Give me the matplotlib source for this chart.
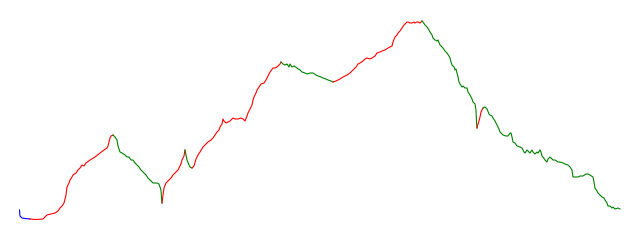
import matplotlib
matplotlib.use("Agg")
import matplotlib.pyplot as plt

# price path
day = [19.5, 20, 22, 25, 30,
       35, 43, 45, 47, 51, 55, 58, 60, 62, 64, 66, 67, 69, 70, 72, 73, 76, 78, 80, 82, 84, 86, 90, 95, 100, 104, 107, 108, 109, 110, 111, 113,
       115, 117, 118, 120, 122, 125, 127, 129, 131, 133, 135, 137, 139, 141, 143, 146, 148, 151, 153, 155, 157, 159, 161, 161.5, 162,
       163, 164, 166, 168, 171, 173, 176, 178, 179, 181, 182, 184, 185,
       186, 187, 189, 190, 192,
       194, 196, 198, 200, 203, 206, 208, 211, 213, 215, 217, 219, 220, 222, 223, 224, 226, 228, 230, 233, 235, 238, 241, 243, 245, 247, 248, 250, 252, 253, 254, 256, 257, 259, 261, 264, 266, 267, 270, 273, 275, 277, 279, 280, 281,
       283, 285, 287, 289, 290, 292, 294, 297, 300, 302, 305, 307, 310, 313, 316, 318, 321, 323, 326, 328, 331, 333,
       336, 340, 343, 347, 350, 353, 356, 358, 360, 363, 365, 367, 370, 372, 375, 377, 380, 382, 385, 388, 390, 392, 393, 395, 397, 398, 400, 402, 404, 405, 407, 408, 410, 412, 414, 415, 417, 418, 420, 422,
       423, 425, 427, 429, 430, 432, 433, 435, 437, 438, 440, 442, 443, 445, 447, 449, 450, 451, 452, 454, 455, 456, 457, 458, 459, 460, 462, 463, 465, 467, 468, 470, 472, 473, 475, 476, 476.5, 477,
       478, 479, 480, 481, 482, 483,
       485, 487, 489, 490, 492, 493, 495, 497, 499, 500, 502, 503, 506, 508, 510, 511, 512, 513, 515, 517, 520, 522, 524, 525, 527, 528, 530, 532, 533, 535, 537, 538, 540, 541, 542, 543, 545, 547, 548, 550, 552, 553, 555, 558, 560, 563, 565, 568, 570, 572, 573, 575, 578, 580, 583, 586, 588, 590, 593, 594, 595, 597, 598, 600, 602, 604, 605, 607, 608, 610, 612, 613, 615, 618, 620]

price = [30, 24, 22, 21.5, 21,
         20.5, 21, 23, 25, 26, 27, 29, 32, 34, 37, 45, 53, 57, 60, 63, 65, 67, 70, 72, 75, 74, 77, 80, 83, 87, 90, 92, 94, 98, 102, 104, 105,
         103, 100, 94, 88, 87, 85, 83, 83, 80, 80, 77, 75, 73, 70, 68, 65, 62, 59, 57, 57, 57, 56, 50, 42, 37,
         45, 52, 57, 59, 62, 65, 68, 70, 72, 76, 80, 84, 90,
         85, 80, 75, 73, 72,
         74, 81, 85, 88, 93, 96, 98, 100, 102, 105, 108, 110, 113, 116, 121, 119, 117, 118, 119, 122, 121, 121, 122, 121, 119, 124, 127, 131, 135, 140, 143, 147, 150, 153, 156, 157, 160, 162, 168, 172, 172, 173, 175, 176, 178,
         176, 175, 176, 173, 176, 173, 174, 172, 170, 168, 167, 166, 167, 167, 165, 164, 163, 162, 161, 160, 159, 158,
         159, 161, 163, 165, 167, 170, 173, 176, 177, 179, 181, 182, 181, 182, 184, 187, 188, 189, 190, 192, 193, 194, 198, 203, 205, 207, 209, 212, 215, 216, 218, 218, 217, 217, 218, 217, 218, 218, 217, 219,
         218, 215, 213, 210, 208, 205, 202, 200, 199, 200, 195, 193, 192, 189, 187, 184, 182, 178, 175, 173, 170, 171, 167, 163, 158, 156, 153, 154, 152, 152, 148, 145, 141, 138, 136, 130, 118, 112,
         116, 119, 123, 128, 130, 132,
         133, 131, 126, 125, 124, 122, 119, 115, 111, 108, 106, 105, 104, 104, 107, 107, 103, 98, 97, 94, 93, 92, 88, 87, 90, 89, 87, 90, 88, 86, 88, 87, 90, 88, 84, 83, 80, 78, 81, 83, 81, 80, 80, 78, 78, 77, 76, 75, 73, 70, 63, 63, 63, 64, 64, 66, 66, 65, 63, 58, 52, 49, 47, 45, 43, 42, 40, 37, 34, 34, 32, 33, 31, 32, 31]

# days where the trend flips, and the trend of each piece
turn_days = [30, 113, 162, 185, 192, 281, 333, 422, 477, 483]
trend = ["start", "up", "down", "up", "down", "up", "down", "up", "down", "up", "down"]
trend_colors = {"start": "blue", "up": "red", "down": "green"}

assert len(day) == len(price)

fig = plt.figure(figsize=(6.4, 2.4), dpi=100)
ax = fig.add_axes([0, 0, 1, 1])

bounds = [day[0]] + turn_days + [day[-1]]
for i, t in enumerate(trend):
    lo, hi = bounds[i], bounds[i + 1]
    xs = [d for d in day if lo <= d <= hi]
    ys = [p for d, p in zip(day, price) if lo <= d <= hi]
    ax.plot(xs, ys, color=trend_colors[t], lw=0.8)

ax.set_xlim(0, 640)
ax.set_ylim(0, 240)
ax.axis("off")

fig.savefig("out.png", dpi=100)
